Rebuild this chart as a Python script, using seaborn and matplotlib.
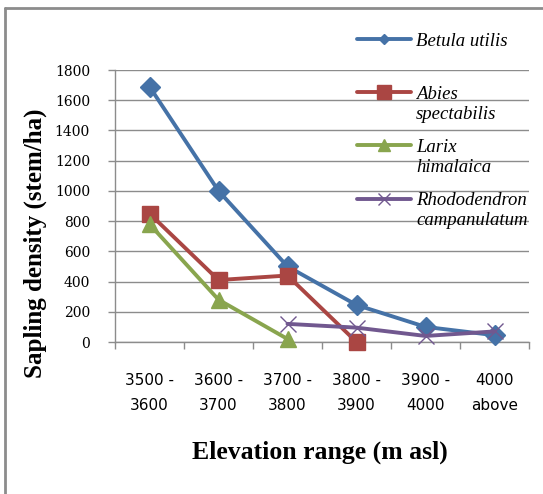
import numpy as np
import pandas as pd
import matplotlib
matplotlib.use("Agg")
import matplotlib.pyplot as plt
from matplotlib.lines import Line2D
import seaborn as sns

# ---------------- data ----------------
categories = ["3500 -\n3600", "3600 -\n3700", "3700 -\n3800",
              "3800 -\n3900", "3900 -\n4000", "4000\nabove"]
species = ["Betula utilis", "Abies spectabilis", "Larix himalaica",
           "Rhododendron campanulatum"]
betula = [1690, 1000, 500, 245, 100, 45]
abies = [850, 410, 440, 0, np.nan, np.nan]
larix = [780, 280, 20, np.nan, np.nan, np.nan]
rhodo = [np.nan, np.nan, 120, 95, 40, 70]
y_ticks = [0, 200, 400, 600, 800, 1000, 1200, 1400, 1600, 1800]

series = [betula, abies, larix, rhodo]
colors = ["#4572A7", "#AA4643", "#89A54E", "#71588F"]
markers = ["D", "s", "^", "x"]
msizes = [10, 11, 12, 12]
mews = [1, 1, 1, 1.0]
leg_ms = [5, 10, 8, 9]
# legend label line splits (layout)
leg_lines = [["Betula utilis"], ["Abies", "spectabilis"],
             ["Larix", "himalaica"], ["Rhododendron", "campanulatum"]]

rows = []
for sp, vals in zip(species, series):
    for i, v in enumerate(vals):
        if not np.isnan(v):
            rows.append({"species": sp, "pos": i, "density": v})
df = pd.DataFrame(rows)

# ---------------- figure ----------------
sns.set_theme(style="white")
plt.rcParams["font.family"] = ["DejaVu Sans"]

W, H = 543, 494
fig = plt.figure(figsize=(W / 100, H / 100), dpi=100)
ax = fig.add_axes([115 / W, 1 - 342 / H, 414 / W, 272 / H])

grid_c = "#8C8C8C"
for sp, col, mk, ms, mew in zip(species, colors, markers, msizes, mews):
    sub = df[df["species"] == sp]
    sns.lineplot(data=sub, x="pos", y="density", ax=ax, color=col,
                 linewidth=2.8, marker=mk, markersize=ms,
                 markeredgecolor=col, markerfacecolor=col,
                 markeredgewidth=mew, legend=False, clip_on=False,
                 zorder=3)

ax.set_xlim(-0.5, len(categories) - 0.5)
ax.set_ylim(0, 1800)
ax.set_yticks(y_ticks)
ax.set_yticklabels([str(t) for t in y_ticks])
ax.set_xticks(range(len(categories)))
ax.set_xticklabels(categories)
ax.set_xticks(np.arange(-0.5, len(categories), 1.0), minor=True)

ax.yaxis.grid(True, color=grid_c, linewidth=1.0)
ax.xaxis.grid(False)
ax.set_axisbelow(True)
for s in ["top", "right"]:
    ax.spines[s].set_visible(False)
for s in ["left", "bottom"]:
    ax.spines[s].set_color(grid_c)
    ax.spines[s].set_linewidth(1.0)

ax.tick_params(axis="x", which="major", length=0, pad=22,
               labelsize=11)
ax.tick_params(axis="x", which="minor", length=5, width=1,
               color=grid_c, direction="out", bottom=True)
ax.tick_params(axis="y", which="major", length=5, width=1,
               color=grid_c, direction="out", left=True, pad=13,
               labelsize=10)
for lab in ax.get_xticklabels():
    lab.set_linespacing(1.85)
    lab.set_color("black")
for lab in ax.get_yticklabels():
    lab.set_family(["DejaVu Serif"])
    lab.set_color("black")

ax.set_xlabel("Elevation range (m asl)", family=["Liberation Serif"],
              fontsize=18.5, fontweight="bold", color="black")
ax.xaxis.set_label_coords(0.495, -0.362)
ax.set_ylabel("Sapling density (stem/ha)", family=["Liberation Serif"],
              fontsize=18, fontweight="bold", color="black")
ax.yaxis.set_label_coords(-0.164, 0.364)

# ---------------- legend (drawn in figure coordinates) ----------------
handle_y = [39.5, 92.5, 145.5, 199.5]
base_y = [46, 99, 152, 205]
line_gap = 20
for col, mk, lms, hy, by, lines in zip(colors, markers, leg_ms, handle_y,
                                       base_y, leg_lines):
    ln = Line2D([357 / W, 384 / W, 411 / W], [1 - hy / H] * 3,
                transform=fig.transFigure, color=col, linewidth=2.8,
                marker=mk, markersize=lms, markevery=[1],
                markeredgecolor=col, markerfacecolor=col,
                markeredgewidth=1)
    fig.add_artist(ln)
    for k, t in enumerate(lines):
        fig.text(416 / W, 1 - (by + k * line_gap) / H, t,
                 family=["Liberation Serif"], style="italic",
                 fontsize=13.5, va="baseline", ha="left", color="black")

# figure border (left & top)
fig.add_artist(Line2D([5 / W, 5 / W], [0, 1 - 8 / H],
                      transform=fig.transFigure, color="#8C8C8C",
                      linewidth=2))
fig.add_artist(Line2D([5 / W, 1], [1 - 8 / H, 1 - 8 / H],
                      transform=fig.transFigure, color="#8C8C8C",
                      linewidth=2))

fig.savefig("out.png", dpi=100)
